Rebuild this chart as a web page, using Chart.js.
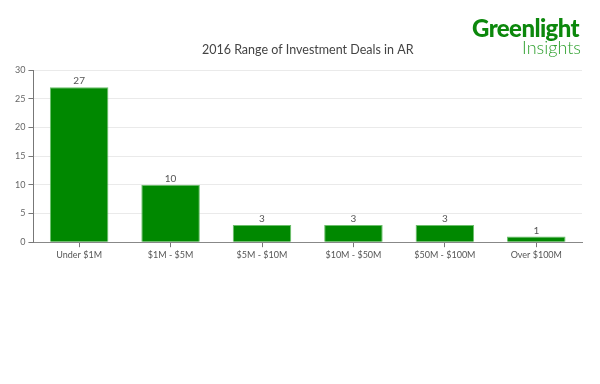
<!DOCTYPE html>
<html>
<head>
<meta charset="utf-8">
<script src="https://cdn.jsdelivr.net/npm/chart.js@4/dist/chart.umd.min.js"></script>
<style>
  body { margin: 0; background: #fff; }
  #wrap { position: relative; width: 600px; height: 384px; }
  #logo { position: absolute; right: 21px; top: 16px; text-align: right; font-family: Lato, "Open Sans", sans-serif; color: #0c880c; line-height: 1; }
  #logo .big { font-weight: 900; font-size: 24px; letter-spacing: -0.6px; }
  #logo .small { font-weight: 300; font-size: 18px; color: #2ea02e; margin-top: -2px; margin-right: -2px; }
</style>
</head>
<body>
<div id="wrap">
  <canvas id="chart"></canvas>
  <div id="logo"><div class="big">Greenlight</div><div class="small">Insights</div></div>
</div>
<script>
const chartTitle = "2016 Range of Investment Deals in AR";
const categories = ["Under $1M", "$1M - $5M", "$5M - $10M", "$10M - $50M", "$50M - $100M", "Over $100M"];
const deals = [27, 10, 3, 3, 3, 1];
const yTicks = [0, 5, 10, 15, 20, 25, 30];

// values above the bars + title centred over the plot area
const extras = {
  id: "extras",
  afterDatasetsDraw(chart) {
    const ctx = chart.ctx;
    const area = chart.chartArea;
    const meta = chart.getDatasetMeta(0);
    ctx.save();
    ctx.font = "10px Lato";
    ctx.fillStyle = "#555";
    ctx.textAlign = "center";
    ctx.textBaseline = "bottom";
    meta.data.forEach((bar, i) => {
      ctx.fillText(deals[i], bar.x, bar.y - 1);
    });
    ctx.font = "12.5px Lato";
    ctx.fillStyle = "#444";
    ctx.textBaseline = "middle";
    ctx.fillText(chartTitle, (area.left + area.right) / 2, area.top - 20);
    ctx.restore();
  }
};

new Chart(document.getElementById("chart"), {
  type: "bar",
  data: {
    labels: categories,
    datasets: [{
      data: deals,
      backgroundColor: "#008800",
      borderColor: "#6cbf6c",
      borderWidth: 1,
      categoryPercentage: 0.64,
      barPercentage: 1
    }]
  },
  options: {
    responsive: true,
    maintainAspectRatio: false,
    animation: false,
    layout: { padding: { left: 12, right: 18, top: 70, bottom: 122 } },
    plugins: {
      legend: { display: false },
      tooltip: { enabled: false },
      title: { display: false }
    },
    scales: {
      x: {
        grid: { display: true, drawOnChartArea: false, tickLength: 5, color: "#777", offset: false },
        border: { color: "#888" },
        ticks: { color: "#555", font: { family: "Lato", size: 9 }, padding: 2 }
      },
      y: {
        min: 0,
        max: 30,
        afterBuildTicks(axis) { axis.ticks = yTicks.map(v => ({ value: v })); },
        grid: { color: "#eaeaea", tickLength: 5, tickColor: "#777" },
        border: { color: "#777" },
        ticks: { color: "#666", font: { family: "Lato", size: 9 }, padding: 3 }
      }
    }
  },
  plugins: [extras]
});
</script>
</body>
</html>
